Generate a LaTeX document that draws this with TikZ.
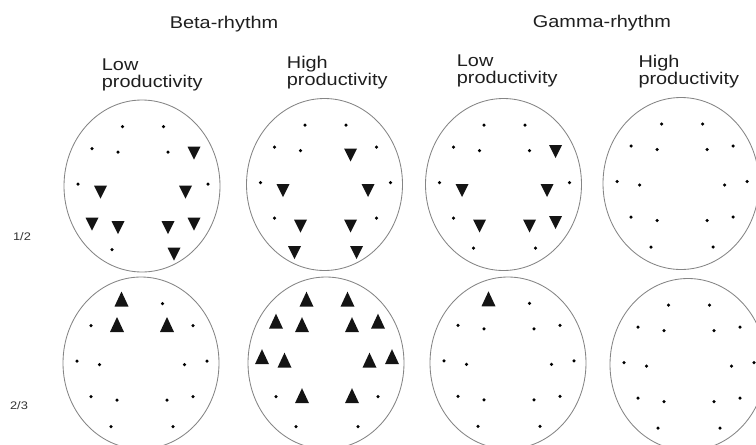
\documentclass[tikz,border=0pt]{standalone}
\usepackage{fontspec}
\setmainfont{Liberation Sans}[FakeStretch=1.17]
\usetikzlibrary{calc,shapes.geometric}

\tikzset{
  head/.style={ellipse, draw=black!48, line width=0.85pt, minimum width=156pt, minimum height=172pt, inner sep=0pt},
  dotmark/.style={circle, fill=black, inner sep=0pt, minimum size=3.5pt},
  markfill/.style={fill=black!92},
  titletext/.style={font=\fontsize{17}{20}\selectfont, text=black!88, inner sep=0pt},
  collab/.style={titletext, anchor=base west},
  rowlab/.style={font=\fontsize{11}{13}\selectfont, text=black!80, inner sep=0pt},
}

\newcommand\setelectrodes[2]{%
  \foreach \n/\dx/\dy in {Fp1/-20.5/-61, Fp2/20.5/-61, F7/-51/-39, F3/-25/-35.5, F4/25/-35.5, F8/51/-39,
                          T3/-65/-3.5, C3/-42.5/0, C4/42.5/0, T4/65/-3.5,
                          T5/-51/32, P3/-25/35.5, P4/25/35.5, T6/51/32, O1/-31/62, O2/31/62}
    {\coordinate (#1-\n) at ($(#2)+(\dx,\dy)$);}%
}
\newcommand\downtri[1]{\fill[markfill] ($(#1)+(-6.5,-2)$) -- ($(#1)+(6.5,-2)$) -- ($(#1)+(0,11)$) -- cycle;}
\newcommand\uptri[1]{\fill[markfill] ($(#1)+(-7,3)$) -- ($(#1)+(7,3)$) -- ($(#1)+(0,-12)$) -- cycle;}

\begin{document}
\begin{tikzpicture}[x=1pt,y=-1pt]
\useasboundingbox (0,0) rectangle (756,445);
\clip (0,0) rectangle (756,445);

% titles
\node[titletext, anchor=base] (beta) at (224,28) {Beta-rhythm};
\node[titletext, anchor=base] (gamma) at (602,27.5) {Gamma-rhythm};

\node[collab] (l1a) at (101.7,70) {Low};
\node[collab] (l1b) at (101.7,87) {productivity};
\node[collab] (l2a) at (286.7,68) {High};
\node[collab] (l2b) at (286.7,85) {productivity};
\node[collab] (l3a) at (456.7,66.5) {Low};
\node[collab] (l3b) at (456.7,83.5) {productivity};
\node[collab] (l4a) at (638.3,67) {High};
\node[collab] (l4b) at (638.3,84) {productivity};

\node[rowlab] (r1) at (22,237) {1/2};
\node[rowlab] (r2) at (19,406) {2/3};

% heads
\node[head] (h1) at (142,186) {};
\node[head] (h2) at (324.5,184.5) {};
\node[head] (h3) at (503.5,184.5) {};
\node[head] (h4) at (681,183.5) {};
\node[head] (h5) at (141,363) {};
\node[head] (h6) at (326,363) {};
\node[head] (h7) at (508,363) {};
\node[head] (h8) at (688,364.5) {};

% electrode positions
\setelectrodes{e1}{143,187.5}
\setelectrodes{e2}{325.5,186}
\setelectrodes{e3}{504.5,186}
\setelectrodes{e4}{682,185}
\setelectrodes{e5}{142,364.5}
\setelectrodes{e6}{327,364.7}
\setelectrodes{e7}{509,364.3}
\setelectrodes{e8}{689,366}

% head 1 (beta, low, 1/2)
\foreach \n in {Fp1,Fp2,F7,F3,F4,T3,T4,O1} {\node[dotmark] (d1-\n) at (e1-\n) {};}
\foreach \n in {F8,C3,C4,T5,P3,P4,T6,O2} {\downtri{e1-\n}}
% head 2 (beta, high, 1/2)
\foreach \n in {Fp1,Fp2,F7,F3,F8,T3,T4,T5,T6} {\node[dotmark] (d2-\n) at (e2-\n) {};}
\foreach \n in {F4,C3,C4,P3,P4,O1,O2} {\downtri{e2-\n}}
% head 3 (gamma, low, 1/2)
\foreach \n in {Fp1,Fp2,F7,F3,F4,T3,T4,T5,O1,O2} {\node[dotmark] (d3-\n) at (e3-\n) {};}
\foreach \n in {F8,C3,C4,P3,P4,T6} {\downtri{e3-\n}}
% head 4 (gamma, high, 1/2)
\foreach \n in {Fp1,Fp2,F7,F3,F4,F8,T3,C3,C4,T4,T5,P3,P4,T6,O1,O2} {\node[dotmark] (d4-\n) at (e4-\n) {};}
% head 5 (beta, low, 2/3)
\foreach \n in {Fp2,F7,F8,T3,C3,C4,T4,T5,P3,P4,T6,O1,O2} {\node[dotmark] (d5-\n) at (e5-\n) {};}
\foreach \n in {Fp1,F3,F4} {\uptri{e5-\n}}
% head 6 (beta, high, 2/3)
\foreach \n in {T5,T6,O1,O2} {\node[dotmark] (d6-\n) at (e6-\n) {};}
\foreach \n in {Fp1,Fp2,F7,F3,F4,F8,T3,C3,C4,T4,P3,P4} {\uptri{e6-\n}}
% head 7 (gamma, low, 2/3)
\foreach \n in {Fp2,F7,F3,F4,F8,T3,C3,C4,T4,T5,P3,P4,T6,O1,O2} {\node[dotmark] (d7-\n) at (e7-\n) {};}
\foreach \n in {Fp1} {\uptri{e7-\n}}
% head 8 (gamma, high, 2/3)
\foreach \n in {Fp1,Fp2,F7,F3,F4,F8,T3,C3,C4,T4,T5,P3,P4,T6,O1,O2} {\node[dotmark] (d8-\n) at (e8-\n) {};}
\end{tikzpicture}
\end{document}
